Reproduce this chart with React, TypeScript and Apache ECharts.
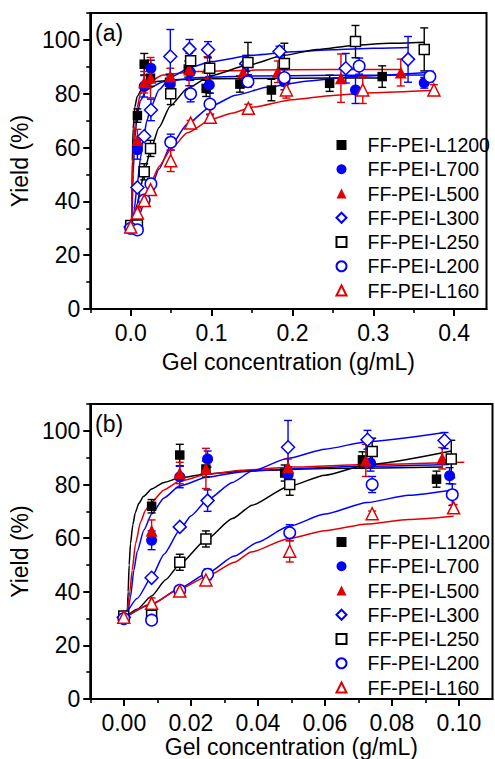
import React, { useEffect, useRef } from 'react';
import * as echarts from 'echarts';

// ---------- data ----------
const seriesNames = ['FF-PEI-L1200', 'FF-PEI-L700', 'FF-PEI-L500', 'FF-PEI-L300', 'FF-PEI-L250', 'FF-PEI-L200', 'FF-PEI-L160'];

// [x (g/mL), yield (%), error]
const l1200Points = [[0, 30.5, 1.5], [0.0083, 71.9, 2.5], [0.0167, 91, 4], [0.0245, 85.8, 3], [0.048, 84.3, 3], [0.0712, 89.2, 3], [0.0933, 82, 3], [0.135, 83.6, 3], [0.174, 81.4, 4], [0.246, 83.9, 3], [0.311, 86.4, 4]];
const l700Points = [[0, 30, 1.5], [0.0083, 59.2, 3.5], [0.0167, 82.8, 4], [0.025, 89.5, 3], [0.049, 83.6, 3], [0.0736, 88, 3], [0.0972, 83.3, 3], [0.145, 85.1, 2], [0.19, 84.5, 3], [0.278, 81.4, 5], [0.363, 84.1, 2]];
const l500Points = [[0, 30.5, 2], [0.0083, 62.8, 4], [0.0167, 84.3, 4], [0.0245, 86, 7.5], [0.049, 86.5, 3], [0.0722, 89, 6], [0.095, 89.8, 4], [0.139, 87.9, 3], [0.182, 88.2, 4], [0.26, 85.8, 9], [0.334, 87.9, 5]];
const l300Points = [[0, 30.5, 1.5], [0.0083, 45.2, 1], [0.0167, 64.2, 1], [0.025, 74, 4], [0.049, 93.9, 10], [0.0727, 96.7, 3.5], [0.0957, 96.4, 3], [0.143, 91.3, 3], [0.184, 95.7, 2], [0.266, 89.5, 5.5], [0.343, 92.8, 8.5]];
const l250Points = [[0, 31, 1.5], [0.0083, 31.2, 1], [0.0167, 51, 3], [0.0245, 59.7, 3], [0.0495, 80, 4], [0.0741, 92.3, 5], [0.0977, 89.5, 7], [0.145, 91.6, 7.5], [0.19, 91.3, 7.5], [0.278, 99.4, 6], [0.363, 96.5, 8]];
const l200Points = [[0, 30, 1.5], [0.0083, 29.4, 1.5], [0.0167, 40.5, 1.5], [0.025, 46.5, 2], [0.0495, 62, 3], [0.0741, 80, 3], [0.098, 76.2, 4], [0.145, 84.5, 2], [0.19, 86, 3], [0.2825, 90.3, 3], [0.37, 86.4, 2]];
const l160Points = [[0, 30.5, 2], [0.0083, 35.7, 2], [0.0167, 40.3, 2], [0.0245, 44.4, 2], [0.0495, 55.1, 4], [0.0741, 69.1, 1], [0.0984, 71.3, 1.2], [0.1455, 74.6, 1.5], [0.1925, 81.4, 3], [0.287, 81.4, 5], [0.375, 81.4, 2]];

// fitted curves, panel (a)
const l1200CurveA = [[0, 30], [0.001, 31], [0.0015, 40], [0.002, 55], [0.003, 67], [0.005, 75], [0.008, 79], [0.015, 82.5], [0.03, 84.5], [0.06, 85.3], [0.1, 85.6], [0.2, 85.8], [0.311, 85.9]];
const l700CurveA = [[0, 30], [0.0015, 33], [0.003, 50], [0.005, 63], [0.008, 72], [0.012, 77.5], [0.02, 81.5], [0.04, 84.5], [0.08, 86], [0.15, 86.6], [0.25, 86.9], [0.363, 87]];
const l500CurveA = [[0, 30], [0.001, 33], [0.002, 45], [0.003, 57], [0.005, 68], [0.008, 75], [0.012, 80], [0.02, 84], [0.04, 87], [0.08, 88.3], [0.15, 88.8], [0.25, 89], [0.334, 89]];
const l300CurveA = [[0, 30], [0.004, 36], [0.008, 46], [0.012, 56], [0.016, 64], [0.02, 70], [0.025, 75], [0.035, 81.5], [0.05, 86.3], [0.075, 90], [0.1, 92], [0.15, 94.3], [0.2, 95.6], [0.25, 96.4], [0.3, 96.9], [0.344, 97.2]];
const l250CurveA = [[0, 30], [0.004, 33], [0.008, 39], [0.0125, 45.5], [0.0167, 51], [0.025, 59.5], [0.035, 67.5], [0.049, 75.5], [0.07, 82], [0.1, 86.8], [0.143, 90.5], [0.19, 94.3], [0.23, 96.5], [0.276, 98], [0.32, 98.8], [0.363, 99.2]];
const l200CurveA = [[0, 30], [0.0083, 33.5], [0.0167, 39], [0.025, 45], [0.035, 52], [0.049, 60.5], [0.07, 68.8], [0.1, 75.5], [0.13, 79.5], [0.17, 82.5], [0.22, 84.8], [0.28, 86.5], [0.37, 88]];
const l160CurveA = [[0, 30], [0.0083, 35], [0.0167, 41.5], [0.025, 47], [0.035, 53], [0.05, 59.5], [0.07, 65.5], [0.1, 70.5], [0.125, 72.8], [0.15, 75], [0.2, 77.8], [0.25, 79.4], [0.3, 80.4], [0.377, 81.3]];

// fitted curves, panel (b)
const l1200CurveB = [[0, 30], [0.001, 31], [0.0013, 40], [0.0016, 50], [0.002, 58], [0.0027, 65], [0.0034, 69.4], [0.0045, 73], [0.0059, 75.6], [0.0083, 78.3], [0.012, 80.8], [0.0167, 82.5], [0.025, 84], [0.04, 85.3], [0.06, 86], [0.095, 86.5]];
const l700CurveB = [[0, 30], [0.001, 31], [0.002, 38], [0.003, 48], [0.004, 55], [0.006, 63], [0.0083, 69], [0.012, 75], [0.0167, 79.5], [0.025, 82.8], [0.035, 84.7], [0.05, 85.9], [0.07, 86.8], [0.097, 87.5]];
const l500CurveB = [[0, 30], [0.001, 33], [0.0018, 40], [0.0025, 48], [0.0035, 58], [0.005, 66], [0.0065, 70.5], [0.0083, 73.5], [0.012, 78], [0.0167, 81.3], [0.025, 83.8], [0.035, 85.3], [0.05, 86.5], [0.07, 87.4], [0.1016, 88.3]];
const l300CurveB = [[0, 30], [0.004, 37.5], [0.0083, 45.5], [0.012, 54], [0.0167, 63], [0.02, 68.3], [0.025, 74.3], [0.0324, 80.8], [0.0383, 85], [0.049, 89.8], [0.06, 93.2], [0.0727, 96], [0.0957, 99.4]];
const l250CurveB = [[0, 30], [0.004, 33.5], [0.0083, 38.4], [0.0125, 44.5], [0.0167, 50.3], [0.0245, 59.3], [0.0324, 67.3], [0.0383, 72.3], [0.049, 79.2], [0.06, 83.5], [0.0726, 87.4], [0.0977, 92.5]];
const l200CurveB = [[0, 30], [0.0083, 35.3], [0.0167, 41.3], [0.025, 47], [0.033, 53.3], [0.04, 58.5], [0.049, 64.3], [0.06, 69], [0.0726, 73.3], [0.085, 76], [0.098, 78]];
const l160CurveB = [[0, 30], [0.0083, 35.5], [0.0167, 41], [0.025, 45.8], [0.033, 51], [0.038, 54.8], [0.049, 59.8], [0.06, 62.8], [0.0726, 65.3], [0.085, 67], [0.0984, 68.2]];

// ticks
const yTicks = [0, 20, 40, 60, 80, 100];
const yMinorTicks = [0, 10, 20, 30, 40, 50, 60, 70, 80, 90, 100, 110];
const xTicksA = [0, 0.1, 0.2, 0.3, 0.4];
const xMinorTicksA = [-0.05, 0, 0.05, 0.1, 0.15, 0.2, 0.25, 0.3, 0.35, 0.4];
const xTicksB = [0, 0.02, 0.04, 0.06, 0.08, 0.1];
const xMinorTicksB = [-0.01, 0, 0.01, 0.02, 0.03, 0.04, 0.05, 0.06, 0.07, 0.08, 0.09, 0.1];

// ---------- styles ----------
const FONT = "'Liberation Sans', Arial, sans-serif";
const BLACK = '#000000';
const BLUE = '#0000ff';
const RED = '#e00000';

const defs = [
  { name: seriesNames[0], pts: l1200Points, ca: l1200CurveA, cb: l1200CurveB, color: BLACK, symbol: 'rect', size: 9.5, open: false },
  { name: seriesNames[1], pts: l700Points, ca: l700CurveA, cb: l700CurveB, color: BLUE, symbol: 'circle', size: 11, open: false },
  { name: seriesNames[2], pts: l500Points, ca: l500CurveA, cb: l500CurveB, color: RED, symbol: 'triangle', size: 12, open: false },
  { name: seriesNames[3], pts: l300Points, ca: l300CurveA, cb: l300CurveB, color: BLUE, symbol: 'diamond', size: 13, open: true },
  { name: seriesNames[4], pts: l250Points, ca: l250CurveA, cb: l250CurveB, color: BLACK, symbol: 'rect', size: 10, open: true },
  { name: seriesNames[5], pts: l200Points, ca: l200CurveA, cb: l200CurveB, color: BLUE, symbol: 'circle', size: 11.5, open: true },
  { name: seriesNames[6], pts: l160Points, ca: l160CurveA, cb: l160CurveB, color: RED, symbol: 'triangle', size: 12, open: true },
];

function makeErrorBar(color: string) {
  return (params: any, api: any) => {
    const x = api.value(0);
    const y = api.value(1);
    const e = api.value(2);
    const p1 = api.coord([x, y + e]);
    const p2 = api.coord([x, y - e]);
    const w = 4;
    const style = { stroke: color, lineWidth: 1.4 };
    return {
      type: 'group',
      children: [
        { type: 'line', shape: { x1: p1[0], y1: p1[1], x2: p2[0], y2: p2[1] }, style },
        { type: 'line', shape: { x1: p1[0] - w, y1: p1[1], x2: p1[0] + w, y2: p1[1] }, style },
        { type: 'line', shape: { x1: p2[0] - w, y1: p2[1], x2: p2[0] + w, y2: p2[1] }, style },
      ],
    };
  };
}

function mainX(gridIndex: number, min: number, max: number, ticks: number[], dec: number, nameGap: number) {
  return {
    type: 'value', gridIndex, min, max, position: 'bottom',
    axisLine: { show: true, onZero: false, lineStyle: { color: '#000', width: 2 } },
    axisTick: { show: true, inside: false, length: 7, customValues: ticks, lineStyle: { color: '#000', width: 2 } },
    axisLabel: { show: true, customValues: ticks, formatter: (v: number) => v.toFixed(dec), fontSize: 23, fontFamily: FONT, color: '#000', margin: 12 },
    splitLine: { show: false },
    name: 'Gel concentration (g/mL)', nameLocation: 'middle', nameGap,
    nameTextStyle: { fontSize: 23, fontFamily: FONT, color: '#000' },
  };
}
function minorX(gridIndex: number, min: number, max: number, ticks: number[]) {
  return {
    type: 'value', gridIndex, min, max, position: 'bottom',
    axisLine: { show: false, onZero: false },
    axisTick: { show: true, inside: false, length: 4, customValues: ticks, lineStyle: { color: '#000', width: 1.6 } },
    axisLabel: { show: false }, splitLine: { show: false },
  };
}
function mainY(gridIndex: number) {
  return {
    type: 'value', gridIndex, min: 0, max: 110, position: 'left',
    axisLine: { show: true, onZero: false, lineStyle: { color: '#000', width: 2 } },
    axisTick: { show: true, inside: false, length: 7, customValues: yTicks, lineStyle: { color: '#000', width: 2 } },
    axisLabel: { show: true, customValues: yTicks, fontSize: 23, fontFamily: FONT, color: '#000', margin: 10 },
    splitLine: { show: false },
    name: 'Yield (%)', nameLocation: 'middle', nameGap: 52,
    nameTextStyle: { fontSize: 23, fontFamily: FONT, color: '#000' },
  };
}
function minorY(gridIndex: number) {
  return {
    type: 'value', gridIndex, min: 0, max: 110, position: 'left',
    axisLine: { show: false, onZero: false },
    axisTick: { show: true, inside: false, length: 4, customValues: yMinorTicks, lineStyle: { color: '#000', width: 1.6 } },
    axisLabel: { show: false }, splitLine: { show: false },
  };
}

function buildSeries() {
  const out: any[] = [];
  const panels = [
    { xi: 0, yi: 0, maxX: 1, key: 'ca' },
    { xi: 2, yi: 2, maxX: 0.11, key: 'cb' },
  ];
  panels.forEach((p, pi) => {
    defs.forEach((d: any) => {
      out.push({
        type: 'line', name: 'fit' + pi + d.name, xAxisIndex: p.xi, yAxisIndex: p.yi,
        data: d[p.key], showSymbol: false, symbol: 'none', smooth: 0.2, smoothMonotone: 'x',
        lineStyle: { color: d.color, width: 1.5 }, z: 2, silent: true,
      });
    });
    defs.forEach((d: any) => {
      const pts = d.pts.filter((q: number[]) => q[0] <= p.maxX);
      out.push({
        type: 'custom', name: 'err' + pi + d.name, xAxisIndex: p.xi, yAxisIndex: p.yi,
        data: pts, encode: { x: 0, y: 1 }, renderItem: makeErrorBar(d.color), z: 3, silent: true,
      });
    });
    defs.forEach((d: any) => {
      const pts = d.pts.filter((q: number[]) => q[0] <= p.maxX).map((q: number[]) => [q[0], q[1]]);
      out.push({
        type: 'scatter', name: d.name, xAxisIndex: p.xi, yAxisIndex: p.yi,
        data: pts, symbol: d.symbol, symbolSize: d.size,
        itemStyle: d.open
          ? { color: '#ffffff', borderColor: d.color, borderWidth: 1.5, opacity: 1 }
          : { color: d.color, borderColor: d.color, borderWidth: 0, opacity: 1 },
        z: 4, silent: true,
      });
    });
  });
  return out;
}

function legend(top: number) {
  return {
    orient: 'vertical', left: 335.5, top, padding: 0, itemGap: 0,
    itemWidth: 10, itemHeight: 10, selectedMode: false, data: seriesNames,
    textStyle: { fontSize: 19.5, fontFamily: FONT, color: '#000', lineHeight: 24.25, padding: [0, 0, 0, 16] },
  };
}

export default function App() {
  const ref = useRef<HTMLDivElement>(null);
  useEffect(() => {
    document.body.style.margin = '0';
    if (!ref.current) return;
    const chart = echarts.init(ref.current, undefined, { renderer: 'svg' });
    const option: any = {
      animation: false,
      backgroundColor: '#ffffff',
      grid: [
        { left: 87.6, top: 13.1, width: 398.9, height: 295.9, show: true, borderColor: '#000', borderWidth: 2, containLabel: false },
        { left: 86.9, top: 404.1, width: 405.6, height: 295.9, show: true, borderColor: '#000', borderWidth: 2, containLabel: false },
      ],
      xAxis: [
        mainX(0, -0.05, 0.44, xTicksA, 1, 41.5),
        minorX(0, -0.05, 0.44, xMinorTicksA),
        mainX(1, -0.01, 0.11, xTicksB, 2, 36),
        minorX(1, -0.01, 0.11, xMinorTicksB),
      ],
      yAxis: [mainY(0), minorY(0), mainY(1), minorY(1)],
      legend: [legend(132.9), legend(529.9)],
      graphic: [
        { type: 'text', x: 95, y: 32.5, style: { text: '(a)', fontSize: 23, fontFamily: FONT, fill: '#000', verticalAlign: 'middle', align: 'left' } },
        { type: 'text', x: 95, y: 424, style: { text: '(b)', fontSize: 23, fontFamily: FONT, fill: '#000', verticalAlign: 'middle', align: 'left' } },
      ],
      series: buildSeries(),
    };
    chart.setOption(option);
    return () => chart.dispose();
  }, []);
  return <div ref={ref} style={{ width: 495, height: 759 }} />;
}
